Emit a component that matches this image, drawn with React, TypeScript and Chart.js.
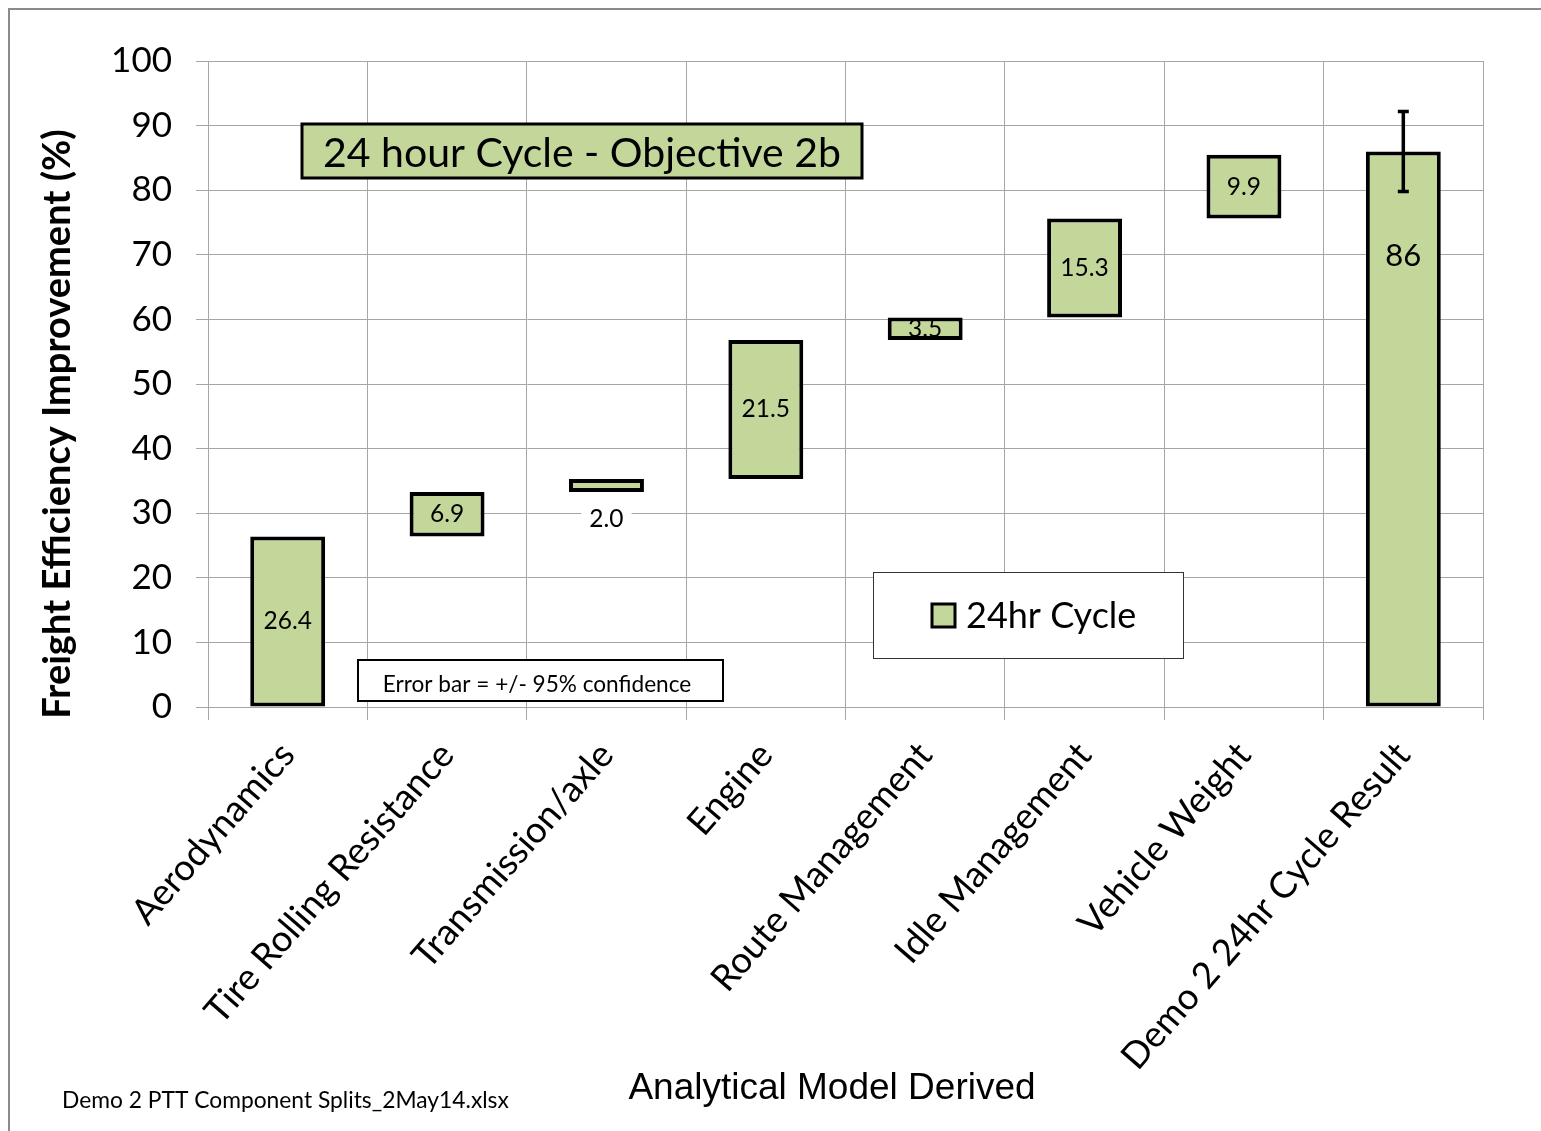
import React, { useEffect, useRef } from "react";
import { Chart, registerables } from "chart.js";

Chart.register(...registerables);

// ---- Data ----
const categories = [
  "Aerodynamics",
  "Tire Rolling Resistance",
  "Transmission/axle",
  "Engine",
  "Route Management",
  "Idle Management",
  "Vehicle Weight",
  "Demo 2 24hr Cycle Result",
];
const barStarts = [0, 26.4, 33.3, 35.3, 56.8, 60.3, 75.6, 0];
const barValues = [26.4, 6.9, 2.0, 21.5, 3.5, 15.3, 9.9, 86];
const valueLabels = ["26.4", "6.9", "2.0", "21.5", "3.5", "15.3", "9.9", "86"];
const errorMargins = [0, 0, 0, 0, 0, 0, 0, 6.2];
const yTickValues = [0, 10, 20, 30, 40, 50, 60, 70, 80, 90, 100];
const seriesName = "24hr Cycle";
const chartTitle = "24 hour Cycle - Objective 2b";
const yAxisTitle = "Freight Efficiency Improvement (%)";
const xAxisTitle = "Analytical Model Derived";
const noteText = "Error bar = +/- 95% confidence";
const footnote = "Demo 2 PTT Component Splits_2May14.xlsx";
// label placement per bar: center of bar, below bar, or near the top of bar
const labelPlacement = ["center", "center", "below", "center", "center", "center", "center", "top"];

const GREEN = "#c4d79b";
const GRID = "#a6a6a6";
const FONT = "Lato";

const overlayPlugin = {
  id: "overlay",
  beforeDraw(chart: any) {
    const ctx = chart.ctx;
    ctx.save();
    ctx.fillStyle = "#fff";
    ctx.fillRect(0, 0, chart.width, chart.height);
    ctx.strokeStyle = "#8a8a8a";
    ctx.lineWidth = 2;
    ctx.strokeRect(9, 9, chart.width + 40, chart.height + 40);
    ctx.restore();
  },
  afterDatasetsDraw(chart: any) {
    const ctx = chart.ctx;
    const y = chart.scales.y;
    const meta = chart.getDatasetMeta(0);
    ctx.save();
    // data labels
    meta.data.forEach((bar: any, i: number) => {
      const top = Math.min(bar.y, bar.base);
      const bottom = Math.max(bar.y, bar.base);
      const place = labelPlacement[i];
      let ly = (top + bottom) / 2;
      let size = 24.5;
      if (place === "below") ly = bottom + 27;
      if (place === "top") {
        ly = top + 105;
        size = 31;
      }
      ctx.font = `${size}px ${FONT}`;
      ctx.textAlign = "center";
      ctx.textBaseline = "middle";
      if (place === "below") {
        const w = ctx.measureText(valueLabels[i]).width;
        ctx.fillStyle = "#fff";
        ctx.fillRect(bar.x - w / 2 - 8, ly - 12, w + 16, 24);
      }
      ctx.fillStyle = "#000";
      ctx.fillText(valueLabels[i], bar.x, ly);
    });
    // error bars
    meta.data.forEach((bar: any, i: number) => {
      const m = errorMargins[i];
      if (!m) return;
      const v = barStarts[i] + barValues[i];
      const yt = y.getPixelForValue(v + m);
      const yb = y.getPixelForValue(v - m);
      ctx.strokeStyle = "#000";
      ctx.lineWidth = 3.5;
      ctx.beginPath();
      ctx.moveTo(bar.x, yt);
      ctx.lineTo(bar.x, yb);
      ctx.moveTo(bar.x - 5.5, yt);
      ctx.lineTo(bar.x + 5.5, yt);
      ctx.moveTo(bar.x - 5.5, yb);
      ctx.lineTo(bar.x + 5.5, yb);
      ctx.stroke();
    });
    ctx.restore();
  },
  afterDraw(chart: any) {
    const ctx = chart.ctx;
    ctx.save();
    // Title box
    ctx.fillStyle = GREEN;
    ctx.fillRect(302, 124, 560, 54);
    ctx.strokeStyle = "#000";
    ctx.lineWidth = 3;
    ctx.strokeRect(302, 124, 560, 54);
    ctx.fillStyle = "#000";
    ctx.font = `41px ${FONT}`;
    ctx.textAlign = "center";
    ctx.textBaseline = "middle";
    ctx.fillText(chartTitle, 582, 154);

    // Legend box
    ctx.fillStyle = "#fff";
    ctx.fillRect(873, 572, 310, 86);
    ctx.strokeStyle = "#333";
    ctx.lineWidth = 1;
    ctx.strokeRect(873.5, 572.5, 310, 86);
    const ds = chart.data.datasets[0];
    ctx.fillStyle = ds.backgroundColor;
    ctx.fillRect(932, 604, 23, 23);
    ctx.strokeStyle = "#000";
    ctx.lineWidth = 3;
    ctx.strokeRect(932, 604, 23, 23);
    ctx.fillStyle = "#000";
    ctx.font = `36px ${FONT}`;
    ctx.textAlign = "left";
    ctx.fillText(ds.label, 966, 616);

    // Note box
    ctx.fillStyle = "#fff";
    ctx.fillRect(358, 660, 365, 41);
    ctx.strokeStyle = "#000";
    ctx.lineWidth = 2;
    ctx.strokeRect(358, 660, 365, 41);
    ctx.fillStyle = "#000";
    ctx.font = `22.6px ${FONT}`;
    ctx.textAlign = "center";
    ctx.fillText(noteText, 537, 685);

    // Y axis title
    ctx.save();
    ctx.translate(58, 424);
    ctx.rotate(-Math.PI / 2);
    ctx.font = `bold 38px ${FONT}`;
    ctx.textAlign = "center";
    ctx.fillText(yAxisTitle, 0, 0);
    ctx.restore();

    // X axis title
    ctx.font = `37px "Liberation Sans"`;
    ctx.textAlign = "center";
    ctx.fillText(xAxisTitle, 832, 1089);

    // Footnote
    ctx.font = `22.8px ${FONT}`;
    ctx.textAlign = "left";
    ctx.fillText(footnote, 62, 1101);
    ctx.restore();
  },
};

export default function App() {
  const ref = useRef<HTMLCanvasElement>(null);
  useEffect(() => {
    let chart: Chart | null = null;
    let cancelled = false;
    const build = () => {
      if (cancelled || !ref.current) return;
      chart = new Chart(ref.current, {
        type: "bar",
        data: {
          labels: categories,
          datasets: [
            {
              label: seriesName,
              data: barValues.map((v, i) => [barStarts[i], barStarts[i] + v]) as any,
              backgroundColor: GREEN,
              borderColor: "#000",
              borderWidth: 4,
              borderSkipped: false,
              barPercentage: 0.47,
              categoryPercentage: 1,
            },
          ],
        },
        options: {
          responsive: false,
          animation: false,
          layout: { padding: { top: 61, right: 58, left: 0, bottom: 0 } },
          plugins: { legend: { display: false }, tooltip: { enabled: false } },
          scales: {
            x: {
              afterFit: (s: any) => {
                s.height = 424;
              },
              grid: {
                color: (c: any) => (c.index === categories.length ? "#222" : GRID),
                lineWidth: 1,
                tickLength: 13,
                offset: true,
              },
              border: { display: true, color: GRID },
              ticks: {
                minRotation: 49,
                maxRotation: 49,
                autoSkip: false,
                padding: 14,
                color: "#000",
                font: { family: FONT, size: 36.5 },
              },
            },
            y: {
              min: 0,
              max: 100,
              afterFit: (s: any) => {
                s.width = 208;
              },
              afterBuildTicks: (s: any) => {
                s.ticks = yTickValues.map((v) => ({ value: v }));
              },
              grid: { color: GRID, lineWidth: 1, tickLength: 12 },
              border: { display: true, color: GRID },
              ticks: {
                padding: 24,
                color: "#000",
                font: { family: FONT, size: 35 },
              },
            },
          },
        },
        plugins: [overlayPlugin],
      });
    };
    const fonts = (document as any).fonts;
    if (fonts && fonts.load) {
      Promise.all([
        fonts.load(`35px ${FONT}`),
        fonts.load(`bold 38px ${FONT}`),
        fonts.load(`37px "Liberation Sans"`),
      ])
        .catch(() => {})
        .then(build);
    } else build();
    return () => {
      cancelled = true;
      if (chart) chart.destroy();
    };
  }, []);
  return (
    <div style={{ position: "fixed", left: 0, top: 0, width: 1541, height: 1131, background: "#fff" }}>
      <canvas ref={ref} width={1541} height={1131} style={{ display: "block" }} />
    </div>
  );
}
